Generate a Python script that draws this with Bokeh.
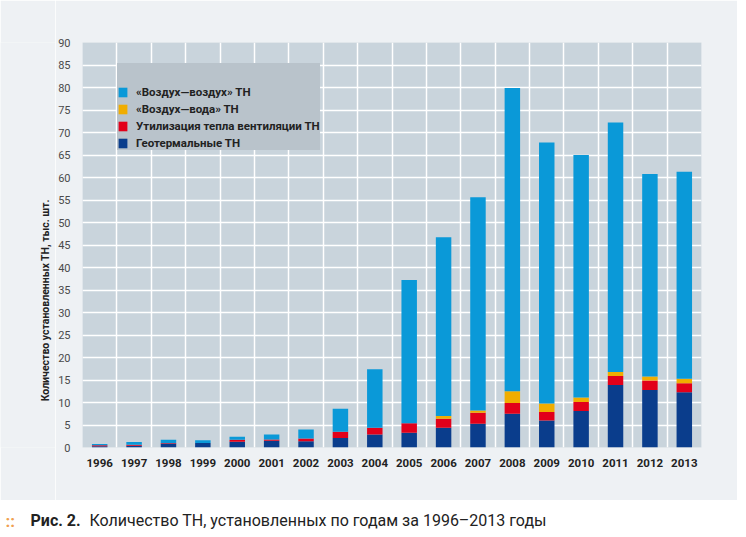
import math
from bokeh.plotting import figure
from bokeh.models import (ColumnDataSource, Range1d, FixedTicker, SingleIntervalTicker,
                          Legend, LegendItem, Label)
from bokeh.layouts import column, row
from bokeh.embed import file_html
from bokeh.resources import INLINE

years = ["1996", "1997", "1998", "1999", "2000", "2001", "2002", "2003", "2004",
         "2005", "2006", "2007", "2008", "2009", "2010", "2011", "2012", "2013"]
geothermal = [0.3, 0.4, 0.9, 1.0, 1.3, 1.5, 1.4, 2.1, 2.9, 3.3, 4.4, 5.3, 7.5, 6.0, 8.1, 13.9, 12.8, 12.3]
ventilation = [0.2, 0.2, 0.1, 0.0, 0.4, 0.3, 0.6, 1.4, 1.5, 2.1, 2.0, 2.4, 2.4, 1.9, 2.0, 2.0, 2.1, 2.0]
air_water = [0.0, 0.0, 0.0, 0.0, 0.0, 0.0, 0.0, 0.0, 0.0, 0.0, 0.6, 0.5, 2.6, 1.9, 1.0, 0.9, 0.9, 1.0]
air_air = [0.3, 0.6, 0.7, 0.6, 0.7, 1.1, 2.0, 5.1, 13.0, 31.8, 39.7, 47.4, 67.4, 58.0, 53.9, 55.4, 45.0, 46.0]

series_names = ["Геотермальные ТН", "Утилизация тепла вентиляции ТН",
                "«Воздух—вода» ТН", "«Воздух—воздух» ТН"]
colors = ["#0a3d8c", "#e2001a", "#f0ad00", "#0a99d8"]

y_label = "Количество установленных ТН, тыс. шт."
caption_bold = "Рис. 2."
caption_text = "Количество ТН, установленных по годам за 1996–2013 годы"

FONT = "Roboto"
PANEL = "#eef1f4"

xs = [i + 0.5 for i in range(len(years))]
src = ColumnDataSource(dict(x=xs, geo=geothermal, vent=ventilation, aw=air_water, aa=air_air))

# narrow strip holding the rotated axis title
lab = figure(width=55, height=500, output_backend="svg", toolbar_location=None,
             x_range=Range1d(0, 55), y_range=Range1d(0, 500),
             min_border=0, min_border_left=0, min_border_right=0,
             min_border_top=0, min_border_bottom=0)
lab.axis.visible = False
lab.grid.visible = False
lab.outline_line_color = None
lab.background_fill_color = PANEL
lab.border_fill_color = PANEL
lab.add_layout(Label(x=45, y=57, text=y_label, angle=math.pi / 2,
                     text_align="left", text_baseline="middle",
                     text_font=FONT, text_font_style="bold",
                     text_font_size="10.5px", text_color="#222222"))

p = figure(width=682, height=500, output_backend="svg", toolbar_location=None,
           x_range=Range1d(0, len(years)), y_range=Range1d(0, 90),
           min_border_left=19, min_border_right=36, min_border_top=42, min_border_bottom=53)
p.background_fill_color = "#c9d4dc"
p.border_fill_color = PANEL
p.outline_line_color = None

rs = p.vbar_stack(["geo", "vent", "aw", "aa"], x="x", width=0.45, fill_color=colors,
                  line_color=None, source=src)

p.xaxis.ticker = FixedTicker(ticks=xs)
p.xaxis.major_label_overrides = {x: y for x, y in zip(xs, years)}
p.yaxis.ticker = SingleIntervalTicker(interval=5)
p.xgrid.ticker = FixedTicker(ticks=list(range(len(years) + 1)))

for g in (p.xgrid, p.ygrid):
    g.grid_line_color = "white"
    g.grid_line_width = 1.5
    g.grid_line_alpha = 1

for ax in (p.xaxis, p.yaxis):
    ax.axis_line_color = None
    ax.major_tick_line_color = None
    ax.minor_tick_line_color = None

p.xaxis.major_label_text_font = FONT
p.xaxis.major_label_text_font_style = "bold"
p.xaxis.major_label_text_font_size = "11.5px"
p.xaxis.major_label_text_color = "#222222"
p.xaxis.major_label_standoff = 5

p.yaxis.major_label_text_font = FONT
p.yaxis.major_label_text_font_size = "11px"
p.yaxis.major_label_text_color = "#4a4a4a"
p.yaxis.major_label_standoff = 6

items = [LegendItem(label=series_names[i], renderers=[rs[i]]) for i in (3, 2, 1, 0)]
legend = Legend(items=items, location=(35, 297), orientation="vertical")
legend.title = "\u00a0"
legend.title_text_font_size = "12px"
legend.title_standoff = 8
legend.background_fill_color = "#b9c3cb"
legend.background_fill_alpha = 1
legend.border_line_color = None
legend.padding = 10
legend.margin = 0
legend.spacing = 3
legend.glyph_width = 11
legend.glyph_height = 12
legend.label_height = 14
legend.label_standoff = 8
legend.label_text_font = FONT
legend.label_text_font_style = "bold"
legend.label_text_font_size = "11.5px"
legend.label_text_color = "#222222"
p.add_layout(legend)

cap = figure(width=737, height=35, output_backend="svg", toolbar_location=None,
             x_range=Range1d(0, 737), y_range=Range1d(0, 35),
             min_border=0, min_border_left=0, min_border_right=0,
             min_border_top=0, min_border_bottom=0)
cap.axis.visible = False
cap.grid.visible = False
cap.outline_line_color = None
cap.background_fill_color = "white"
cap.border_fill_color = "white"
cap.add_layout(Label(x=5, y=15, text="::", text_font=FONT, text_font_style="bold",
                     text_font_size="17px", text_color="#f0a050", text_baseline="middle"))
cap.add_layout(Label(x=30, y=15, text=caption_bold, text_font=FONT, text_font_style="bold",
                     text_font_size="16px", text_color="#222222", text_baseline="middle"))
cap.add_layout(Label(x=89, y=15, text=caption_text, text_font=FONT,
                     text_font_size="16px", text_color="#222222", text_baseline="middle"))

layout = column(row(lab, p, spacing=0), cap, spacing=0)
open("out.html", "w").write(file_html(layout, INLINE))
